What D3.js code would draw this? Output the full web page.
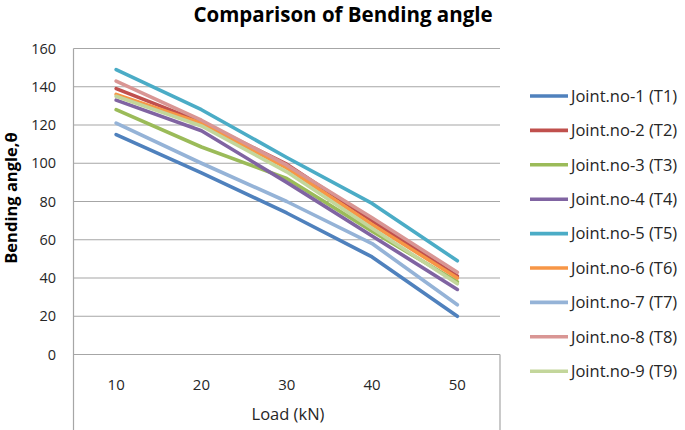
<!DOCTYPE html>
<html><head><meta charset="utf-8">
<script src="https://cdn.jsdelivr.net/npm/d3@7"></script>
<style>body{margin:0;background:#fff}svg{display:block}text{font-family:"Open Sans",sans-serif}</style>
</head><body><svg id="c" width="685" height="430"></svg>
<script>
const loads = ["10","20","30","40","50"];
const seriesNames = ["Joint.no-1 (T1)","Joint.no-2 (T2)","Joint.no-3 (T3)","Joint.no-4 (T4)","Joint.no-5 (T5)","Joint.no-6 (T6)","Joint.no-7 (T7)","Joint.no-8 (T8)","Joint.no-9 (T9)"];
const T1 = [115, 95, 74, 51, 20];
const T2 = [139, 121.5, 99.5, 70, 41];
const T3 = [128, 108.5, 92, 64.5, 38];
const T4 = [133, 117, 90, 62, 34];
const T5 = [149, 128, 103, 79, 49];
const T6 = [136, 121, 97.5, 68, 40];
const T7 = [121, 100, 80, 58, 26];
const T8 = [143, 122.5, 99, 71.5, 43];
const T9 = [135, 119.5, 95.5, 66, 37];
const seriesValues = [T1,T2,T3,T4,T5,T6,T7,T8,T9];
const colors = ["#4F81BD","#C0504D","#9BBB59","#8064A2","#4BACC6","#F79646","#95B3D7","#D99694","#C3D69B"];
const yTicks = [0,20,40,60,80,100,120,140,160];

const svg = d3.select("#c");
const L = 73.5, R = 500, T = 48.5, B = 354.5;
const x = d3.scaleBand().domain(loads).range([L, R]);
const y = d3.scaleLinear().domain([0,160]).range([B, T]);

svg.append("g").selectAll("line").data(yTicks).join("line")
  .attr("x1", L).attr("x2", R).attr("y1", d=>y(d)).attr("y2", d=>y(d))
  .attr("stroke", "#A6A6A6").attr("stroke-width", 1.2);
svg.append("line").attr("x1",L).attr("x2",L).attr("y1",T).attr("y2",430).attr("stroke","#A6A6A6").attr("stroke-width",1.2);
svg.append("line").attr("x1",R).attr("x2",R).attr("y1",B).attr("y2",430).attr("stroke","#A6A6A6").attr("stroke-width",1.2);

svg.append("g").selectAll("text").data(yTicks).join("text")
  .attr("x", 56).attr("y", d=>y(d)).attr("dy","0.35em").attr("text-anchor","end")
  .attr("font-size", 14.5).attr("fill","#262626").text(d=>d);
svg.append("g").selectAll("text").data(loads).join("text")
  .attr("x", d=>x(d)+x.bandwidth()/2).attr("y", 390).attr("text-anchor","middle")
  .attr("font-size", 15).attr("fill","#262626").text(d=>d);

const line = d3.line().x((d,i)=>x(loads[i])+x.bandwidth()/2).y(d=>y(d));
svg.append("g").selectAll("path").data(seriesValues).join("path")
  .attr("d", d=>line(d)).attr("fill","none")
  .attr("stroke", (d,i)=>colors[i]).attr("stroke-width", 3.6)
  .attr("stroke-linejoin","round").attr("stroke-linecap","round");

svg.append("text").attr("x", 343).attr("y", 22).attr("text-anchor","middle")
  .attr("font-size", 20.5).attr("font-weight","bold").attr("fill","#000").text("Comparison of Bending angle");
svg.append("text").attr("x", 288).attr("y", 420).attr("text-anchor","middle")
  .attr("font-size", 16.5).attr("fill","#262626").text("Load (kN)");
svg.append("text").attr("transform","translate(17,198) rotate(-90)").attr("text-anchor","middle")
  .attr("font-size", 16.5).attr("font-weight","bold").attr("fill","#000").text("Bending angle,θ");

const lg = svg.append("g").selectAll("g").data(seriesNames).join("g")
  .attr("transform", (d,i)=>`translate(530,${96 + i*34.4})`);
lg.append("line").attr("x1",0).attr("x2",38).attr("y1",0).attr("y2",0)
  .attr("stroke",(d,i)=>colors[i]).attr("stroke-width",3.6);
lg.append("text").attr("x",41).attr("y",0).attr("dy","0.35em")
  .attr("font-size",16.5).attr("fill","#262626").text(d=>d);
</script></body></html>
